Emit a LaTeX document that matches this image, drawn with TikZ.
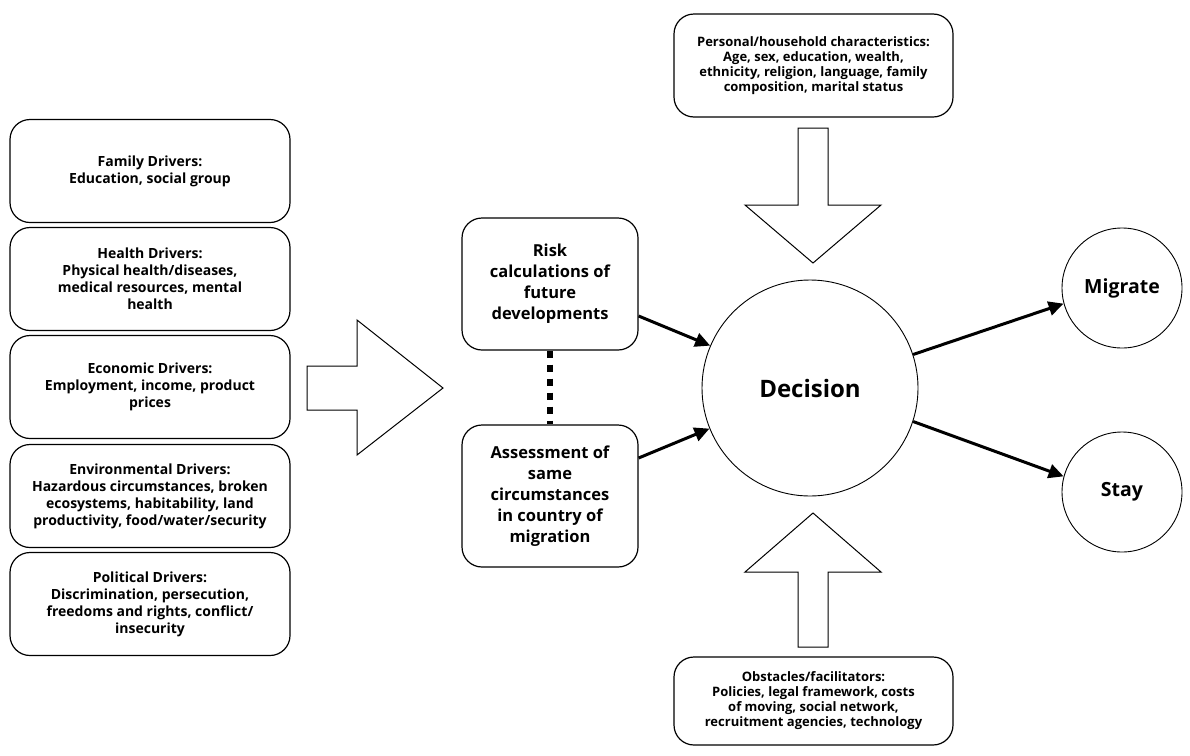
\documentclass[tikz,border=0pt]{standalone}
\usepackage{fontspec}
\setmainfont{Open Sans}
\usetikzlibrary{arrows.meta}

\begin{document}
\begin{tikzpicture}[x=1pt,y=-1pt,
    driver/.style={draw,line width=1.2pt,rounded corners=20pt,minimum width=280pt,minimum height=103pt,align=center,font=\bfseries\fontsize{14}{17}\selectfont},
    factor/.style={draw,line width=1.2pt,rounded corners=20pt,minimum width=279pt,align=center,font=\bfseries\fontsize{13}{15}\selectfont},
    think/.style={draw,line width=1.2pt,rounded corners=20pt,minimum width=176pt,align=center,font=\bfseries\fontsize{16.5}{21}\selectfont},
    choice/.style={draw,circle,line width=0.9pt,minimum size=120pt,font=\bfseries\fontsize{19.5}{23}\selectfont},
    conn/.style={line width=3pt,-{Triangle[length=15pt,width=14pt]}},
    block/.style={draw,line width=1pt,fill=white}]
        \useasboundingbox (0,0) rectangle (1190,755);
        % drivers
        \node[driver] (family) at (150,171) {Family Drivers:\\Education, social group};
        \node[driver] (health) at (150,279) {Health Drivers:\\Physical health/diseases,\\medical resources, mental\\health};
        \node[driver] (economic) at (150,387) {Economic Drivers:\\Employment, income, product\\prices};
        \node[driver] (environ) at (150,496) {Environmental Drivers:\\Hazardous circumstances, broken\\ecosystems, habitability, land\\productivity, food/water/security};
        \node[driver] (political) at (150,604) {Political Drivers:\\Discrimination, persecution,\\freedoms and rights, conflict/\\insecurity};
        \draw[block] (307,366) -- (357,366) -- (357,320) -- (443,388) -- (357,455) -- (357,410) -- (307,410) -- cycle;
        % assessments
        \node[think,minimum height=132pt] (risk) at (550,284) {Risk\\calculations of\\future\\developments};
        \node[think,minimum height=142pt] (assess) at (550,496) {Assessment of\\same\\circumstances\\in country of\\migration};
        \draw[line width=6pt,dash pattern=on 7pt off 7pt] (risk.south) -- (assess.north);
        % decision
        \node[choice,minimum size=216pt,font=\bfseries\fontsize{24}{28}\selectfont] (decision) at (810,388) {Decision};
        \node[choice] (migrate) at (1122,288) {Migrate};
        \node[choice] (stay) at (1122,492) {Stay};
        \draw[conn] ([yshift=-32pt]risk.east) -- (decision.157);
        \draw[conn] ([yshift=38pt]assess.east) -- (decision.202);
        \draw[conn] (decision.18) -- (migrate.195);
        \draw[conn] (decision.-18) -- (stay.165);
        % factors
        \node[factor,minimum height=103pt] (personal) at (813.5,65.5) {Personal/household characteristics:\\Age, sex, education, wealth,\\ethnicity, religion, language, family\\composition, marital status};
        \node[factor,minimum height=88pt] (obstacles) at (813.5,701) {Obstacles/facilitators:\\Policies, legal framework, costs\\of moving, social network,\\recruitment agencies, technology};
        \draw[block] (798,128) -- (828,128) -- (828,205) -- (881,205) -- (813,263) -- (745,205) -- (798,205) -- cycle;
        \draw[block] (798,647) -- (828,647) -- (828,572) -- (881,572) -- (813,513) -- (745,572) -- (798,572) -- cycle;
    \end{tikzpicture}
\end{document}
